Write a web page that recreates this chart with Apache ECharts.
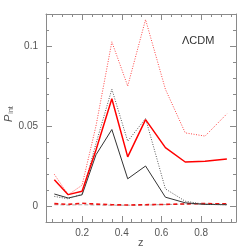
<!DOCTYPE html>
<html><head><meta charset="utf-8">
<script src="https://cdn.jsdelivr.net/npm/echarts@6/dist/echarts.min.js"></script>
<style>html,body{margin:0;padding:0;background:#fff}#c{width:249px;height:249px}</style>
</head><body><div id="c"></div>
<script>
const z = [0.06, 0.13, 0.2, 0.27, 0.35, 0.43, 0.52, 0.62, 0.72, 0.82, 0.93];
const redDotted  = [0.0198, 0.007, 0.013, 0.050, 0.1026, 0.075, 0.1165, 0.073, 0.0457, 0.0437, 0.0576];
const redSolid   = [0.0164, 0.0071, 0.0092, 0.035, 0.067, 0.0307, 0.054, 0.0365, 0.0275, 0.028, 0.0294];
const graySolid  = [0.0075, 0.005, 0.007, 0.032, 0.0478, 0.017, 0.025, 0.0055, 0.002, 0.001, 0.0008];
const grayDotted = [0.006, 0.0045, 0.0075, 0.039, 0.073, 0.0405, 0.0547, 0.0107, 0.003, 0.001, 0.0008];
const redDashed  = [0.0015, 0.001, 0.0017, 0.0012, 0.0008, 0.0006, 0.0008, 0.001, 0.0013, 0.0015, 0.0013];
const grayDashed = [0.0008, 0.0006, 0.0008, 0.0006, 0.0005, 0.0005, 0.0006, 0.0009, 0.0012, 0.0013, 0.0012];
const xMajor = [0.2, 0.4, 0.6, 0.8];
const xMinor = [0.05, 0.1, 0.15, 0.25, 0.3, 0.35, 0.45, 0.5, 0.55, 0.65, 0.7, 0.75, 0.85, 0.9, 0.95];
const yMajor = [0, 0.05, 0.1];
const yMinor = [0.01, 0.02, 0.03, 0.04, 0.06, 0.07, 0.08, 0.09, 0.11];
const yLabels = {0: '0', 0.05: '0.05', 0.1: '0.1'};

const X0 = 0.018, X1 = 0.976, Y0 = -0.01, Y1 = 0.12;
const axColor = '#8a8a8a';
function xAx(pos, vals, len, show, line) {
  return {type: 'value', position: pos, min: X0, max: X1,
    axisLine: {show: line, onZero: false, lineStyle: {color: axColor, width: 1}},
    axisTick: {show: true, inside: true, length: len, customValues: vals, lineStyle: {color: axColor}},
    axisLabel: {show: show, customValues: vals, margin: 6, color: '#555', fontSize: 10, fontFamily: 'Liberation Sans', formatter: v => String(+v.toFixed(2))},
    splitLine: {show: false}};
}
function yAx(pos, vals, len, show, line) {
  return {type: 'value', position: pos, min: Y0, max: Y1,
    axisLine: {show: line, onZero: false, lineStyle: {color: axColor, width: 1}},
    axisTick: {show: true, inside: true, length: len, customValues: vals, lineStyle: {color: axColor}},
    axisLabel: {show: show, customValues: vals, margin: 8, color: '#555', fontSize: 10, fontFamily: 'Liberation Sans', formatter: v => yLabels[+v.toFixed(2)] ?? ''},
    splitLine: {show: false}};
}
function line(data, color, width, type, zl) {
  return {type: 'line', data: z.map((v, i) => [v, data[i]]), symbol: 'none', z: zl,
    lineStyle: {color: color, width: width, type: type}};
}
const chart = echarts.init(document.getElementById('c'), null, {renderer: 'canvas'});
chart.setOption({
  animation: false,
  grid: {left: 46, right: 13, top: 14, bottom: 27},
  xAxis: [xAx('bottom', xMajor, 6, true, true), xAx('bottom', xMinor, 3, false, false),
          xAx('top', xMajor, 6, false, true), xAx('top', xMinor, 3, false, false)],
  yAxis: [yAx('left', yMajor, 6, true, true), yAx('left', yMinor, 3, false, false),
          yAx('right', yMajor, 6, false, true), yAx('right', yMinor, 3, false, false)],
  series: [
    line(grayDashed, '#aaaaaa', 1, [4, 2], 2),
    line(redDashed, '#ee1111', 1.6, [4, 3], 3),
    line(graySolid, '#333333', 1, 'solid', 4),
    line(grayDotted, '#555555', 1, [1, 1.5], 5),
    line(redDotted, '#ff4444', 1, [1, 1.5], 6),
    line(redSolid, '#ff0000', 1.5, 'solid', 7)
  ],
  graphic: [
    {type: 'text', left: 182, top: 35, style: {text: 'ΛCDM', fontSize: 11, fill: '#333', fontFamily: 'Liberation Sans'}},
    {type: 'text', x: 138, y: 237, style: {text: 'z', fontSize: 11, fill: '#555', fontFamily: 'Liberation Sans'}},
    {type: 'text', x: 2, y: 122, rotation: Math.PI / 2,
     style: {text: '{p|P}{s|int}', fill: '#555', fontFamily: 'Liberation Sans',
       rich: {p: {fontSize: 11, fontStyle: 'italic', fill: '#555'}, s: {fontSize: 7, fill: '#555', padding: [6, 0, 0, 1]}}}}
  ]
});
</script></body></html>
